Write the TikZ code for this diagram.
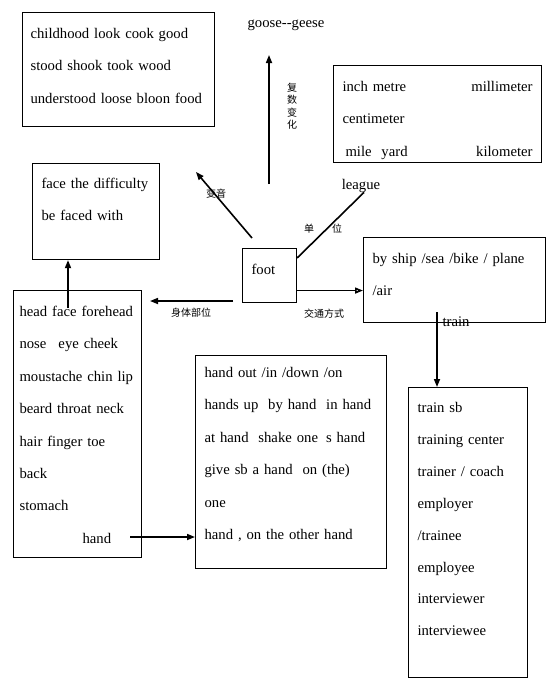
\documentclass[tikz,border=0pt]{standalone}
\usepackage{fontspec}
\setmainfont{Liberation Serif}
\newfontfamily\cjk{Noto Sans CJK SC}
\usepackage{tikz}
\usetikzlibrary{positioning, arrows.meta}

\begin{document}
\begin{tikzpicture}[
    x=1pt, y=-1pt,
    box/.style={draw, line width=1.1pt, anchor=north west, align=left, inner xsep=9pt, inner ysep=0pt, text height=26pt, font=\fontsize{14.7}{32.4}\selectfont},
    word/.style={font=\fontsize{14.7}{18}\selectfont, inner sep=0pt, anchor=base},
    zh/.style={font=\cjk\fontsize{10}{12.5}\selectfont, inner sep=0pt},
    arr/.style={-{Triangle[length=8pt, width=6pt]}, line width=1.6pt},
    oarr/.style={-{Triangle[open, length=8pt, width=6pt]}, line width=1.6pt}
]
\useasboundingbox (0,0) rectangle (555,694);

% Centre
\node[box, text width=36pt, text depth=28pt] (foot) at (242,248) {foot};

% Upper boxes
\node[box, inner xsep=8pt, text width=176pt, text depth=88pt] (oo) at (22,12) {
    childhood look cook good\\
    stood shook took wood\\
    understood loose bloon food
};

\node[box, text width=109pt, text height=25pt, text depth=71pt] (face) at (32,163) {
    face the difficulty\\
    be faced with
};

\node[box, text width=190pt, text depth=71pt] (units) at (333,65) {
    inch metre\hspace{\fill}millimeter\\
    centimeter\\
    \hspace*{3pt}mile\ \ yard\hspace{\fill}kilometer
};

\node[box, text width=164pt, text depth=59pt] (ship) at (363,237) {
    by ship /sea /bike / plane\\
    /air
};

% Lower boxes
\node[box, inner xsep=6pt, text width=116pt, text depth=241pt] (body) at (13,290) {
    head face forehead\\
    nose\hspace{12pt}eye cheek\\
    moustache chin lip\\
    beard throat neck\\
    hair finger toe\\
    back\\
    stomach\\
    \hspace*{63pt}hand
};

\node[box, text width=173pt, text height=22pt, text depth=191pt] (handbox) at (195,355) {
    hand out /in /down /on\\
    hands up\ \ by hand\ \ in hand\\
    at hand\ \ shake one\hspace{8pt}s hand\\
    give sb a hand\ \ on (the)\\
    one\\
    hand , on the other hand
};

\node[box, text width=101pt, text height=25pt, text depth=265pt, font=\fontsize{14.7}{31.9}\selectfont] (trainbox) at (408,387) {
    train sb\\
    training center\\
    trainer / coach\\
    employer\\
    /trainee\\
    employee\\
    interviewer\\
    interviewee
};

% Loose words
\node[word] (goose) at (286,27) {goose-{}-geese};
\node[word] (league) at (361,189) {league};
\node[word] (trainlbl) at (456,326) {train};

% Chinese labels
\node[zh] (bianyin) at (216,194) {变音};
\node[zh, align=center] (fushu) at (292,106) {复\\数\\变\\化};
\node[zh] (danwei) at (323,229) {单\hspace{18pt}位};
\node[zh] (shenti) at (191,313) {身体部位};
\node[zh] (jiaotong) at (324,314) {交通方式};

% Free ends
\coordinate (vtail) at (252,238);
\coordinate (vtip) at (196,172);
\coordinate (ptail) at (269,184);
\coordinate (ptip) at (269,55);
\coordinate (btail) at (233,301);
\coordinate (btip) at (150,301);
\coordinate (ftail) at (68,308);
\coordinate (htail) at (130,537);
\coordinate (ttail) at (437,312);
\coordinate (tstart) at ([yshift=-15pt]foot.east);

% Arrows
\draw[arr] (vtail) -- (vtip);
\draw[arr] (ptail) -- (ptip);
\draw[line width=1.6pt] ([yshift=-10pt]foot.north east) -- ([xshift=3pt]league.south);
\draw[oarr] (tstart) -- (tstart -| ship.west);
\draw[arr] (btail) -- (btip);
\draw[arr] (ftail) -- (ftail |- face.south);
\draw[arr] (htail) -- (htail -| handbox.west);
\draw[arr] (ttail) -- (ttail |- trainbox.north);

\end{tikzpicture}
\end{document}
